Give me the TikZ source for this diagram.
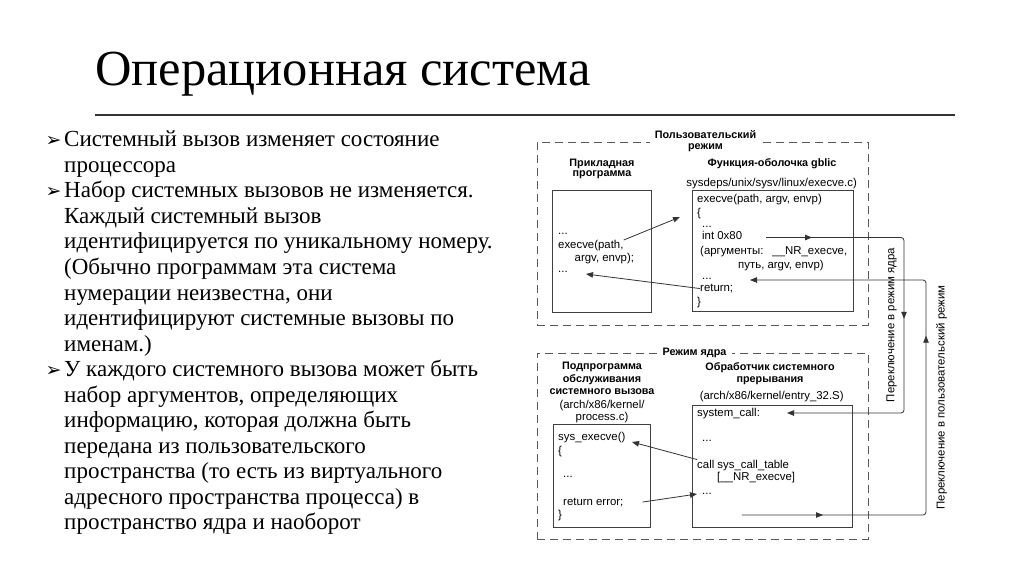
\documentclass[tikz,border=0pt]{standalone}
\usepackage{fontspec}
\setmainfont{Liberation Serif}
\setsansfont{Liberation Sans}
\newfontfamily\symfont{DejaVu Sans}
\usetikzlibrary{arrows.meta,positioning,decorations.markings}

\begin{document}
\begin{tikzpicture}[x=1pt,y=-1pt,
    >={Triangle[length=7pt,width=5.5pt]},
    frame/.style={draw=black!65,dash pattern=on 8pt off 5pt,line width=0.9pt,inner sep=0pt},
    box/.style={draw=black!75,line width=0.9pt,inner sep=0pt,anchor=north west},
    head/.style={font=\sffamily\bfseries\fontsize{10.8}{10.5}\selectfont,align=center,inner sep=0pt,anchor=north},
    code/.style={font=\sffamily\fontsize{11.4}{12.5}\selectfont,inner sep=0pt,anchor=base west},
    item/.style={font=\fontsize{23}{25.5}\selectfont,inner sep=0pt,anchor=base west},
    bullet/.style={font=\symfont\fontsize{19}{19}\selectfont,inner sep=0pt,anchor=base west},
    call/.style={->,draw=black!80,line width=0.8pt},
    switch/.style={call,rounded corners=3pt,postaction=decorate}
  ]
  \useasboundingbox (0,0) rectangle (1024,574);
  \fill[white] (0,0) rectangle (1024,574);

  % title
  \node[font=\fontsize{50.5}{50}\selectfont,inner sep=0pt,anchor=base west] (title) at (95,85) {Операционная система};
  \draw[black!80,line width=1.4pt] (95,115) -- (955,115);

  % bullet list
  \foreach \t [count=\i] in {
      {Системный вызов изменяет состояние},
      {процессора},
      {Набор системных вызовов не изменяется.},
      {Каждый системный вызов},
      {идентифицируется по уникальному номеру.},
      {(Обычно программам эта система},
      {нумерации неизвестна, они},
      {идентифицируют системные вызовы по},
      {именам.)},
      {У каждого системного вызова может быть},
      {набор аргументов, определяющих},
      {информацию, которая должна быть},
      {передана из пользовательского},
      {пространства (то есть из виртуального},
      {адресного пространства процесса) в},
      {пространство ядра и наоборот}}
    \node[item] (line\i) at (64,{146.7+25.55*(\i-1)}) {\t};
  \foreach \i in {1,3,10}
    \node[bullet] (b\i) at (45.5,{146.7+25.55*(\i-1)}) {➢};

  % user mode
  \node[frame,minimum width=331pt,minimum height=183pt,anchor=north west] (user) at (537,142) {};
  \node[head,fill=white,inner xsep=5pt,inner ysep=1pt] (user-t) at (705.5,129.5) {Пользовательский\\режим};

  \node[head] (app-t) at (602,158.5) {Прикладная\\программа};
  \node[box,minimum width=99pt,minimum height=122pt] (app) at (552,190) {};
  \node[code] (app-d1) at (558,234.3) {...};
  \node[code] (app-call) at (558,248.5) {execve(path,};
  \node[code] (app-args) at (574.5,261) {argv, envp);};
  \node[code] (app-d2) at (558,272.5) {...};

  \node[head] (wr-t) at (772,158.5) {Функция-оболочка gblic};
  \node[code,anchor=base] (wr-src) at (771.7,186.5) {sysdeps/unix/sysv/linux/execve.c)};
  \node[box,minimum width=161pt,minimum height=121pt] (wr) at (692,190) {};
  \node[code] (wr-head) at (697,202) {execve(path, argv, envp)};
  \node[code] (wr-open) at (697,216) {\{};
  \node[code] (wr-d1) at (702,227) {...};
  \node[code] (wr-int) at (702,239.5) {int 0x80};
  \node[code] (wr-nr) at (700,254) {(аргументы:\hspace{9pt}\_\_NR\_execve,};
  \node[code] (wr-path) at (738,268.5) {путь, argv, envp)};
  \node[code] (wr-d2) at (702,279.5) {...};
  \node[code] (wr-ret) at (700,291.5) {return;};
  \node[code] (wr-close) at (697,305) {\}};

  % kernel mode
  \node[frame,minimum width=331pt,minimum height=186pt,anchor=north west] (kern) at (537,353) {};
  \node[head,fill=white,inner xsep=6pt,inner ysep=1pt,anchor=center] (kern-t) at (694.5,352.5) {Режим ядра};

  \node[head,font=\sffamily\bfseries\fontsize{10.8}{12.5}\selectfont] (sc-t) at (602,362) {Подпрограмма\\обслуживания\\системного вызова};
  \node[head,font=\sffamily\fontsize{11.4}{12}\selectfont] (sc-src) at (602,400) {(arch/x86/kernel/\\process.c)};
  \node[box,minimum width=97pt,minimum height=103pt] (sc) at (553,424) {};
  \node[code] (sc-head) at (558,440.5) {sys\_execve()};
  \node[code] (sc-open) at (558,454) {\{};
  \node[code] (sc-d) at (563,477.5) {...};
  \node[code] (sc-ret) at (563,505) {return error;};
  \node[code] (sc-close) at (558,518) {\}};

  \node[head,font=\sffamily\bfseries\fontsize{10.8}{12.5}\selectfont] (k-t) at (770,362) {Обработчик системного\\прерывания};
  \node[code,anchor=base] (k-src) at (771.7,399.7) {(arch/x86/kernel/entry\_32.S)};
  \node[box,minimum width=160pt,minimum height=122pt] (k) at (692,405) {};
  \node[code] (k-entry) at (697,416.5) {system\_call:};
  \node[code] (k-d1) at (702,441) {...};
  \node[code] (k-call) at (697,468) {call sys\_call\_table};
  \node[code] (k-nr) at (717,480) {[\_\_NR\_execve]};
  \node[code] (k-d2) at (702,494) {...};

  % mode switch labels
  \node[code,anchor=center,rotate=90] (to-kern) at (891.5,325) {Переключение в режим ядра};
  \node[code,anchor=center,rotate=90] (to-user) at (941.5,397.5) {Переключение в пользовательский режим};

  \coordinate (wr-in) at (680,217);
  \coordinate (app-in) at (586,274);
  \coordinate (sc-in) at (632,442);
  \coordinate (k-back) at (697,494);
  \coordinate (wr-out) at (766,237.5);
  \coordinate (k-in) at (787,413);
  \coordinate (k-out) at (742,515);
  \coordinate (wr-back) at (750,280);

  \draw[call] (app-call.north east) -- (wr-in);
  \draw[call] (wr-ret.west) -- (app-in);
  \draw[call] (k-call.north west) -- (sc-in);
  \draw[call] ([xshift=19pt]sc-ret.east) -- (k-back);
  \draw[switch,decoration={markings,
      mark=at position 46pt with {\arrow{>}},
      mark=at position 218pt with {\arrow{>}}}]
    (wr-out) -- ++(138,0) |- (k-in);
  \draw[switch,decoration={markings,
      mark=at position 81pt with {\arrow{>}},
      mark=at position 362pt with {\arrow{>}}}]
    (k-out) -- ++(184,0) |- (wr-back);
\end{tikzpicture}
\end{document}
